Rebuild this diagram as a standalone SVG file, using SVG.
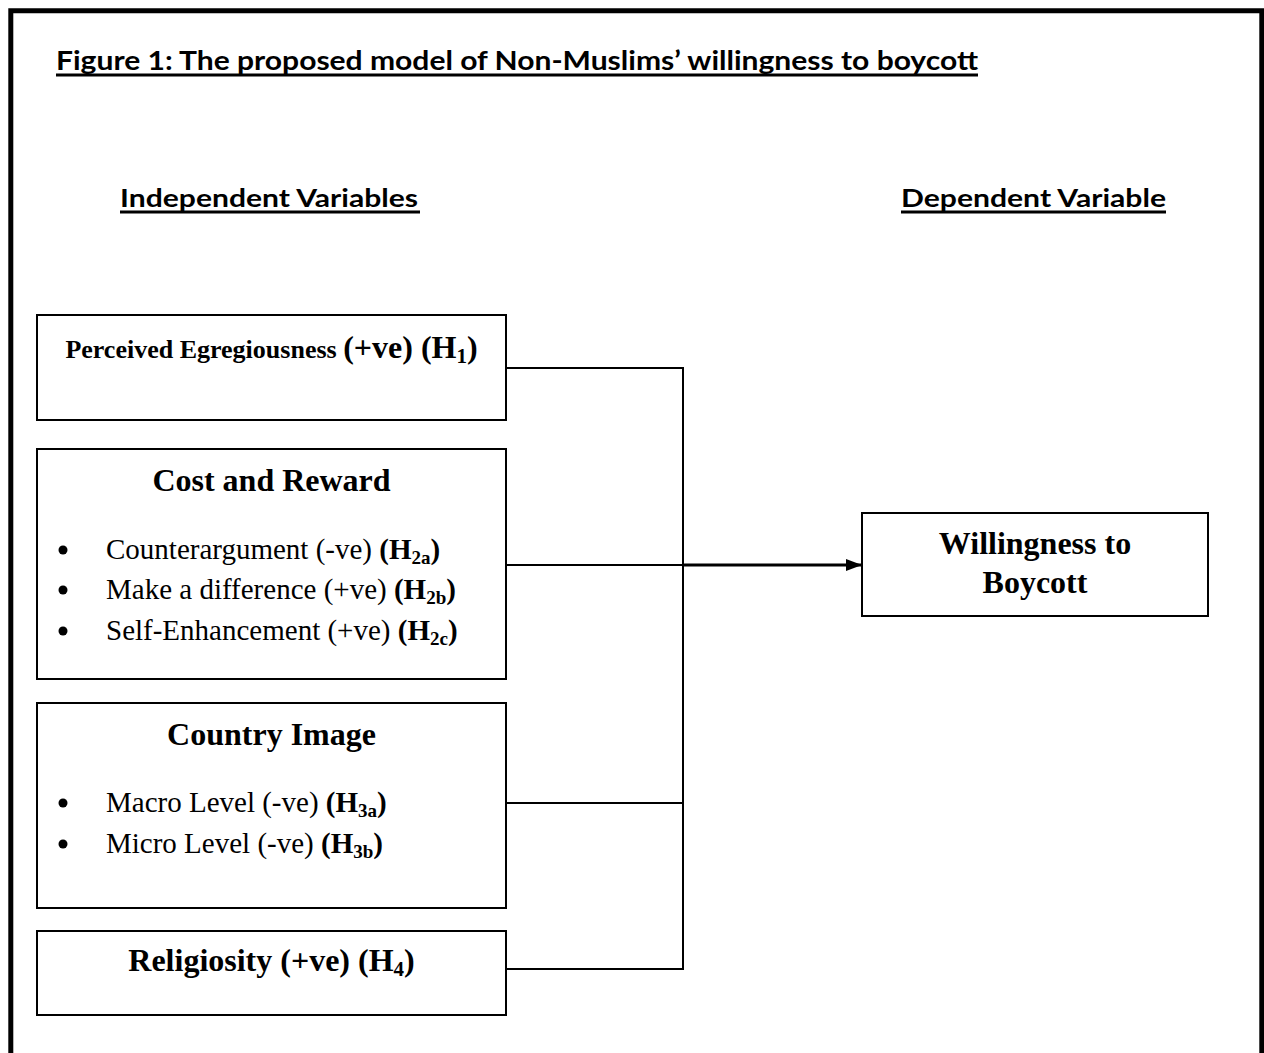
<svg xmlns="http://www.w3.org/2000/svg" width="1264" height="1053" viewBox="0 0 1264 1053">
<style>
.box{fill:#fff;stroke:#000;stroke-width:2}
.ttl{font-family:Lato,"Liberation Sans",sans-serif;font-weight:bold;fill:#000}
.hd{font-family:"Liberation Serif","Times New Roman",serif;font-weight:bold;font-size:32px;fill:#000}
.it{font-family:"Liberation Serif","Times New Roman",serif;font-size:29px;fill:#000}
.b{font-weight:bold}
.ul{stroke:#000;stroke-width:2.8}
.con{fill:none;stroke:#000;stroke-width:2}
</style>
<defs>
<marker id="arr" markerWidth="16" markerHeight="12" refX="16" refY="6" orient="auto" markerUnits="userSpaceOnUse">
<polygon points="0,0 16,6 0,12" fill="#000"/>
</marker>
</defs>
<rect width="1264" height="1053" fill="#fff"/>
<path d="M10.8,1053 V10.8 H1261.8 V1053" fill="none" stroke="#000" stroke-width="5"/>

<g id="title">
<text class="ttl" x="56" y="70" font-size="26" textLength="922" lengthAdjust="spacingAndGlyphs">Figure 1: The proposed model of Non-Muslims’ willingness to boycott</text>
<line class="ul" x1="56" y1="75" x2="978" y2="75"/>
</g>
<g id="heading-independent">
<text class="ttl" x="120" y="207" font-size="24" textLength="298" lengthAdjust="spacingAndGlyphs">Independent Variables</text>
<line class="ul" x1="120" y1="212" x2="420" y2="212"/>
</g>
<g id="heading-dependent">
<text class="ttl" x="901" y="207" font-size="24" textLength="265" lengthAdjust="spacingAndGlyphs">Dependent Variable</text>
<line class="ul" x1="901" y1="212" x2="1166" y2="212"/>
</g>

<g id="connectors">
<path class="con" d="M506,368 H683 V969 H506"/>
<path class="con" d="M506,803 H683"/>
<path class="con" d="M506,565 H683"/>
<path d="M683,565 H862" fill="none" stroke="#000" stroke-width="3" marker-end="url(#arr)"/>
</g>

<g id="node-egregiousness">
<rect class="box" x="37" y="315" width="469" height="105"/>
<text class="hd" x="271.5" y="358" text-anchor="middle"><tspan font-size="26">Perceived Egregiousness </tspan>(+ve) (H<tspan font-size="21" dy="5">1</tspan><tspan dy="-5">)</tspan></text>
</g>

<g id="node-cost-reward">
<rect class="box" x="37" y="449" width="469" height="230"/>
<text class="hd" x="271.5" y="491" text-anchor="middle">Cost and Reward</text>
<circle cx="63" cy="550" r="4.5"/>
<circle cx="63" cy="590" r="4.5"/>
<circle cx="63" cy="631" r="4.5"/>
<text class="it" x="106" y="559">Counterargument (-ve) <tspan class="b">(H<tspan font-size="19" dy="5">2a</tspan><tspan dy="-5">)</tspan></tspan></text>
<text class="it" x="106" y="599">Make a difference (+ve) <tspan class="b">(H<tspan font-size="19" dy="5">2b</tspan><tspan dy="-5">)</tspan></tspan></text>
<text class="it" x="106" y="640">Self-Enhancement (+ve) <tspan class="b">(H<tspan font-size="19" dy="5">2c</tspan><tspan dy="-5">)</tspan></tspan></text>
</g>

<g id="node-country-image">
<rect class="box" x="37" y="703" width="469" height="205"/>
<text class="hd" x="271.5" y="745" text-anchor="middle">Country Image</text>
<circle cx="63" cy="803" r="4.5"/>
<circle cx="63" cy="844" r="4.5"/>
<text class="it" x="106" y="812">Macro Level (-ve) <tspan class="b">(H<tspan font-size="19" dy="5">3a</tspan><tspan dy="-5">)</tspan></tspan></text>
<text class="it" x="106" y="853">Micro Level (-ve) <tspan class="b">(H<tspan font-size="19" dy="5">3b</tspan><tspan dy="-5">)</tspan></tspan></text>
</g>

<g id="node-religiosity">
<rect class="box" x="37" y="931" width="469" height="84"/>
<text class="hd" x="271.5" y="971" text-anchor="middle">Religiosity (+ve) (H<tspan font-size="21" dy="5">4</tspan><tspan dy="-5">)</tspan></text>
</g>

<g id="node-willingness">
<rect class="box" x="862" y="513" width="346" height="103"/>
<text class="hd" x="1035" y="554" text-anchor="middle">Willingness to</text>
<text class="hd" x="1035" y="593" text-anchor="middle">Boycott</text>
</g>
</svg>
